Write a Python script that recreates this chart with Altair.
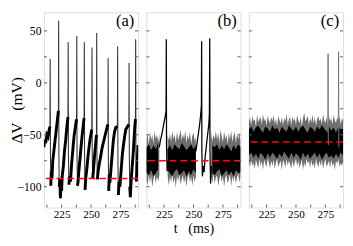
import altair as alt
import pandas as pd

# ---------------- data ----------------
T0, T1 = 210, 290
YMIN, YMAX = -120.0, 67.9

# panel (a): membrane potential trace
a_t = [210.0, 210.5, 211.5, 212.5, 213.5, 214.5, 215.1, 215.3, 215.5, 215.8, 216.3, 216.8, 217.5, 218.5,
       219.5, 220.5, 221.5, 222.3, 222.5, 222.7, 223.0, 223.5, 224.0, 224.5, 225.0, 225.5, 226.5, 227.5,
       228.5, 229.5, 230.4, 230.6, 230.8, 231.2, 231.8, 232.5, 233.5, 234.5, 235.5, 236.5, 237.7, 237.9,
       238.1, 238.5, 239.0, 239.5, 240.5, 241.5, 242.5, 243.5, 244.1, 244.3, 244.5, 244.9, 245.5, 246.5,
       247.5, 248.5, 249.5, 250.6, 250.8, 251.0, 251.4, 252.0, 253.0, 254.0, 254.6, 254.8, 255.0, 255.4,
       256.0, 257.0, 258.0, 259.5, 261.0, 262.5, 264.3, 264.5, 264.7, 265.0, 265.5, 266.0, 267.0, 268.0,
       269.0, 270.0, 271.0, 272.4, 272.6, 272.8, 273.2, 273.8, 274.5, 275.5, 276.5, 277.5, 278.5, 279.5,
       281.0, 282.1, 282.3, 282.5, 282.9, 283.4, 284.0, 285.0, 286.0, 287.0, 287.7, 287.9, 288.1, 288.5,
       289.0, 290.0]
a_v = [-62, -55, -58, -50, -52, -45, -42, 23, -60, -99, -85, -92, -75, -65,
       -55, -45, -35, -27, 60, -70, -100, -92, -111, -95, -104, -90, -80, -65,
       -55, -42, -33, 39, -70, -98, -90, -95, -78, -65, -52, -44, -35, 45,
       -70, -99, -95, -87, -75, -62, -50, -40, -34, 39, -70, -103, -92, -82,
       -70, -60, -52, -45, 34, -70, -92, -85, -70, -58, -50, 48, -70, -93,
       -85, -78, -72, -62, -55, -48, -40, 24, -70, -104, -88, -96, -82, -68,
       -55, -47, -43, -42, 35, -70, -108, -95, -100, -85, -70, -60, -52, -45,
       -42, -40, 19, -70, -100, -110, -95, -80, -65, -45, -35, 42, -70, -95,
       -80, -60]

# panel (b): spikes rising out of the noise
b_t = [221.0, 222.0, 223.0, 224.0, 225.0, 226.0, 226.7, 226.9, 227.1, 227.6, 228.2,
       252.0, 253.0, 254.0, 255.0, 256.0, 256.7, 256.9, 257.1, 257.6, 258.2, 259.0, 260.0,
       261.0, 262.0, 263.0, 263.5, 263.8, 264.0, 264.5, 265.2]
b_v = [-62, -55, -50, -44, -38, -32, -27, 42, -60, -85, -75,
       -66, -58, -50, -42, -32, -22, 40, -65, -90, -80, -86, -70,
       -60, -50, -40, -30, 43, -65, -97, -80]
b_seg = [1] * 11 + [2] * 20

# noise envelopes, sampled every 1 ms (outer) and 2 ms (inner core)
grid1 = list(range(210, 291))
grid2 = list(range(210, 291, 2))

b_out_up = [-56, -48, -60, -47, -55, -50, -59, -46, -54, -50,
            -57, -49, -60, -50, -56, -52, -58, -48, -51, -55,
            -49, -57, -46, -54, -50, -58, -47, -55, -51, -45,
            -56, -49, -54, -46, -58, -50, -55, -47, -59, -51,
            -48, -56, -52, -60, -50, -57, -48, -55, -59, -50,
            -56, -51, -58, -48, -55, -47, -56, -50, -54, -46,
            -55, -48, -58, -45, -52, -57, -47, -54, -50, -59,
            -48, -55, -46, -57, -51, -47, -58, -49, -54, -48, -56]
b_out_lo = [-92, -99, -88, -96, -89, -100, -93, -87, -97, -90,
            -95, -89, -99, -91, -96, -88, -98, -93, -89, -99,
            -90, -96, -87, -97, -91, -101, -89, -95, -88, -98,
            -93, -89, -97, -90, -100, -91, -88, -96, -90, -99,
            -89, -95, -91, -98, -88, -96, -90, -99, -93, -89,
            -97, -91, -95, -88, -99, -90, -96, -87, -97, -91,
            -89, -99, -93, -88, -96, -90, -100, -91, -89, -97,
            -93, -88, -99, -90, -95, -89, -97, -91, -87, -96, -90]
b_in_up = [-63, -59, -65, -60, -64, -58, -62, -66, -59, -64, -60, -65, -59, -62, -64, -58, -61, -65, -62, -59, -64,
           -60, -66, -59, -62, -65, -58, -64, -60, -62, -59, -65, -60, -64, -59, -62, -66, -60, -64, -59, -62]
b_in_lo = [-86, -89, -84, -90, -87, -83, -89, -86, -91, -84, -87, -90, -85, -83, -89, -87, -84, -90, -85, -89, -83,
           -87, -90, -84, -89, -85, -91, -84, -87, -89, -85, -83, -90, -87, -84, -89, -85, -90, -84, -87, -86]
b_noise_spans = [(210, 221), (228, 252), (265, 290)]

c_out_up = [-38, -33, -41, -32, -37, -35, -42, -31, -38, -35,
            -33, -40, -30, -37, -34, -41, -32, -36, -39, -33,
            -37, -31, -40, -34, -42, -32, -36, -39, -33, -41,
            -34, -37, -30, -40, -35, -33, -41, -32, -37, -34,
            -40, -31, -36, -39, -33, -42, -34, -29, -37, -35,
            -32, -40, -34, -38, -31, -39, -33, -41, -35, -32,
            -37, -34, -40, -30, -36, -39, -33, -41, -32, -37,
            -34, -40, -31, -36, -39, -33, -37, -32, -40, -34, -36]
c_out_lo = [-76, -81, -73, -80, -77, -83, -74, -78, -82, -73,
            -80, -75, -84, -74, -78, -81, -73, -77, -82, -75,
            -80, -74, -83, -77, -73, -81, -78, -75, -84, -74,
            -77, -82, -73, -80, -75, -78, -83, -74, -81, -77,
            -73, -80, -75, -82, -78, -74, -84, -77, -81, -73,
            -78, -75, -82, -74, -80, -77, -83, -73, -78, -81,
            -75, -80, -74, -83, -77, -73, -81, -78, -75, -82,
            -74, -80, -77, -84, -75, -78, -73, -81, -77, -80, -76]
c_in_up = [-45, -42, -47, -43, -41, -45, -48, -42, -44, -47, -41, -45, -43, -48, -42, -45, -47, -41, -44, -46, -42,
           -47, -43, -41, -45, -48, -42, -44, -47, -42, -45, -41, -44, -47, -42, -46, -43, -48, -42, -45, -44]
c_in_lo = [-70, -67, -72, -68, -73, -67, -70, -74, -68, -72, -67, -70, -73, -68, -72, -66, -70, -73, -67, -72, -68,
           -70, -74, -67, -72, -68, -73, -70, -67, -72, -68, -74, -70, -67, -72, -70, -73, -68, -72, -67, -70]
c_noise_spans = [(210, 290)]

c_t = [277.1, 277.3, 277.5, 286.0, 286.2, 286.4]
c_v = [-48, 28, -60, -45, 30, -62]
c_seg = [1, 1, 1, 2, 2, 2]

rest = {"a": -92, "b": -75, "c": -57}
ytick_vals = [-100, -75, -50, -25, 0, 25, 50]
xtick_vals = [212.5, 225, 237.5, 250, 262.5, 275, 287.5]
ylabel_vals = [-100, -50, 0, 50]
xlabel_vals = [225, 250, 275]

# ---------------- styling ----------------
FONT = "Liberation Serif"
FRAME = "#5a5a5a"
W, H = 97, 201
xs = alt.Scale(domain=[T0, T1], nice=False, zero=False)
ys = alt.Scale(domain=[YMIN, YMAX], nice=False, zero=False)


def band_df(grid, up, lo, spans):
    rows = []
    for k, (s, e) in enumerate(spans):
        for t, u, l in zip(grid, up, lo):
            if s <= t <= e:
                rows.append({"t": t, "v": u, "v2": l, "seg": k})
    return pd.DataFrame(rows)


def ramp_df(ts, vs):
    # thick noisy sub-threshold parts of trace (a): everything except spikes and down-strokes
    rows, seg, skip = [], 0, False
    for t, v in zip(ts, vs):
        if v > -25:
            seg += 1
            skip = True
            continue
        if skip:
            skip = False
            continue
        rows.append({"t": t, "v": v, "seg": seg})
    return pd.DataFrame(rows)


def panel(name, show_y, xtitle):
    xaxis = alt.Axis(values=xlabel_vals, ticks=False, domain=False, grid=False, labelFont=FONT,
                     labelFontSize=11.5, labelColor="black", labelPadding=1.5, title=xtitle,
                     titleFont=FONT, titleFontSize=14.5, titleFontWeight="normal", titleColor="black",
                     titlePadding=0, minExtent=14.5, maxExtent=14.5)
    if show_y:
        yaxis = alt.Axis(values=ylabel_vals, ticks=False, domain=False, grid=False, labelFont=FONT,
                         labelFontSize=12, labelColor="black", labelPadding=3,
                         title="\u0394V\u00a0\u00a0\u00a0(mV)", titleFont=FONT, titleFontSize=16,
                         titleFontWeight="normal", titleColor="black", titlePadding=-5,
                         minExtent=25, maxExtent=25)
    else:
        yaxis = None

    def X(f="t"):
        return alt.X(f"{f}:Q", scale=xs, axis=xaxis)

    def Y(f="v"):
        if yaxis is None:
            return alt.Y(f"{f}:Q", scale=ys, axis=None)
        return alt.Y(f"{f}:Q", scale=ys, axis=yaxis)

    layers = []
    if name in ("b", "c"):
        if name == "b":
            odf = band_df(grid1, b_out_up, b_out_lo, b_noise_spans)
            idf = band_df(grid2, b_in_up, b_in_lo, b_noise_spans)
            tdf = pd.DataFrame({"t": b_t, "v": b_v, "seg": b_seg})
        else:
            odf = band_df(grid1, c_out_up, c_out_lo, c_noise_spans)
            idf = band_df(grid2, c_in_up, c_in_lo, c_noise_spans)
            tdf = pd.DataFrame({"t": c_t, "v": c_v, "seg": c_seg})
        layers.append(alt.Chart(odf).mark_area(color="#6e6e6e", clip=True).encode(
            x=X(), y=Y(), y2="v2:Q", detail="seg:N"))
        layers.append(alt.Chart(idf).mark_area(color="black", clip=True).encode(
            x=X(), y=Y(), y2="v2:Q", detail="seg:N"))
        lw = 1.3 if name == "b" else 1.0
        lc = "black" if name == "b" else "#777777"
        layers.append(alt.Chart(tdf).mark_line(color=lc, strokeWidth=lw, clip=True).encode(
            x=X(), y=Y(), detail="seg:N"))
    else:
        adf = pd.DataFrame({"t": a_t, "v": a_v})
        layers.append(alt.Chart(adf).mark_line(color="#333333", strokeWidth=1.1, clip=True).encode(
            x=X(), y=Y()))
        layers.append(alt.Chart(ramp_df(a_t, a_v)).mark_line(color="black", strokeWidth=3.0,
                                                             clip=True).encode(
            x=X(), y=Y(), detail="seg:N"))

    rdf = pd.DataFrame({"v": [rest[name]]})
    layers.append(alt.Chart(rdf).mark_rule(color="#e8101a", strokeDash=[7, 4], strokeWidth=1.6).encode(
        y=Y()))

    trows = []
    for v in ytick_vals:
        trows.append({"t": T0, "t2": T0 + 2.6, "v": v, "v2": v})
        trows.append({"t": T1, "t2": T1 - 2.6, "v": v, "v2": v})
    for t in xtick_vals:
        trows.append({"t": t, "t2": t, "v": YMIN, "v2": YMIN + 2.8})
    tk = pd.DataFrame(trows)
    layers.append(alt.Chart(tk).mark_rule(color=FRAME, strokeWidth=1).encode(
        x=X(), x2="t2:Q", y=Y(), y2="v2:Q"))

    ldf = pd.DataFrame({"lab": [f"({name})"]})
    layers.append(alt.Chart(ldf).mark_text(font=FONT, fontSize=17, align="right", baseline="top",
                                           color="black").encode(
        text="lab:N", x=alt.value(W - 4), y=alt.value(1)))

    return alt.layer(*layers).properties(width=W, height=H)


pa = panel("a", True, "")
pb = panel("b", False, "t\u00a0\u00a0\u00a0(ms)")
pc = panel("c", False, "")

chart = alt.hconcat(pa, pb, pc, spacing=4.5).properties(padding=0).configure_view(
    stroke=FRAME, strokeWidth=1.2).configure(background="white")

chart.save("out.html", embed_options={"renderer": "svg", "actions": False})
